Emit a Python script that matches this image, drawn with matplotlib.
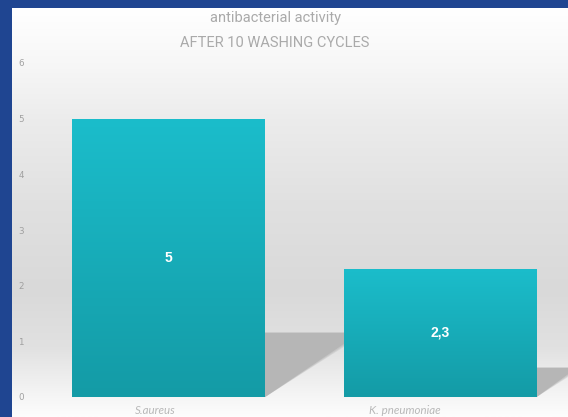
import matplotlib.pyplot as plt
import numpy as np
from matplotlib.colors import LinearSegmentedColormap
from matplotlib.patches import Polygon
from matplotlib.transforms import ScaledTranslation, blended_transform_factory

TITLE_TOP = "antibacterial activity"
TITLE_BOTTOM = "AFTER 10 WASHING CYCLES"
categories = ["S.aureus", "K. pneumoniae"]
values = [5, 2.3]
value_labels = ["5", "2,3"]
y_ticks = [0, 1, 2, 3, 4, 5, 6]

W, H = 568, 417
fig = plt.figure(figsize=(W / 100, H / 100), dpi=100)
fig.patch.set_facecolor("#1f4591")

# white/grey panel with a soft vertical gradient
bg = fig.add_axes([12 / W, 0, 1 - 12 / W, 409 / H])
bg_cmap = LinearSegmentedColormap.from_list(
    "bg",
    [(0.0, "#ffffff"), (0.134, "#f7f7f7"), (0.27, "#ececec"), (0.47, "#e1e1e1"),
     (0.69, "#d9d9d9"), (0.83, "#e1e1e1"), (0.95, "#f5f5f5"), (1.0, "#fdfdfd")],
)
bg.imshow(np.linspace(0, 1, 256).reshape(-1, 1), cmap=bg_cmap, aspect="auto",
          extent=[0, 1, 0, 1], origin="upper")
bg.set_axis_off()

ax = fig.add_axes([33 / W, 20 / H, 543 / W, 334 / H])
ax.set_facecolor("none")

bar_cmap = LinearSegmentedColormap.from_list("bar", ["#149ba6", "#1bbdcb"])
width = 0.71
xs = np.arange(len(values))
bars = ax.bar(xs, values, width=width, color="none", zorder=3)

for bar, v in zip(bars, values):
    x0 = bar.get_x()
    x1 = x0 + bar.get_width()
    # slanted shadow behind the bar, soft edges from a few stacked layers
    s = 0.233 * v
    d = 0.075 * v
    for shrink, a in [(0.0, 0.35), (0.012, 0.45), (0.025, 1.0)]:
        shadow = Polygon([(x0, 0), (x1, 0), (x1 + d - shrink, s - shrink * 0.6),
                          (x0 + d, s - shrink * 0.6)],
                         closed=True, facecolor="#b6b6b6", edgecolor="none",
                         alpha=a, zorder=2)
        ax.add_patch(shadow)
    img = ax.imshow(np.linspace(0, 1, 128).reshape(-1, 1), cmap=bar_cmap,
                    aspect="auto", extent=[x0, x1, 0, v], origin="lower", zorder=3)
    img.set_clip_path(bar)

for x, v, lbl in zip(xs, values, value_labels):
    ax.text(x, v / 2, lbl, ha="center", va="center", color="white",
            fontsize=10, fontweight="bold", family="Liberation Sans", zorder=5)

label_shift_px = [-13, -35]
trans = blended_transform_factory(ax.transData, ax.transAxes)
for x, cat, dx in zip(xs, categories, label_shift_px):
    off = ScaledTranslation(dx / 100, -13 / 100, fig.dpi_scale_trans)
    ax.text(x, 0, cat, transform=trans + off, ha="center", va="center",
            color="#b8b8b8", fontsize=8.3, style="italic", family="Lato")

ax.set_xlim(-0.5, 1.5)
ax.set_ylim(0, 6)
ax.set_yticks(y_ticks)
ax.set_xticks([])
ax.tick_params(axis="y", length=0, pad=6.5, labelsize=6.3, labelcolor="#a0a0a0")
for s in ax.spines.values():
    s.set_visible(False)

fig.text(275 / W, 1 - 18 / H, TITLE_TOP, ha="center", va="center",
         fontsize=10.5, color="#aaaaaa", family="Roboto")
fig.text(275 / W, 1 - 43 / H, TITLE_BOTTOM, ha="center", va="center",
         fontsize=10.5, color="#aaaaaa", family="Roboto")

fig.savefig("out.png", dpi=100, facecolor=fig.get_facecolor())
